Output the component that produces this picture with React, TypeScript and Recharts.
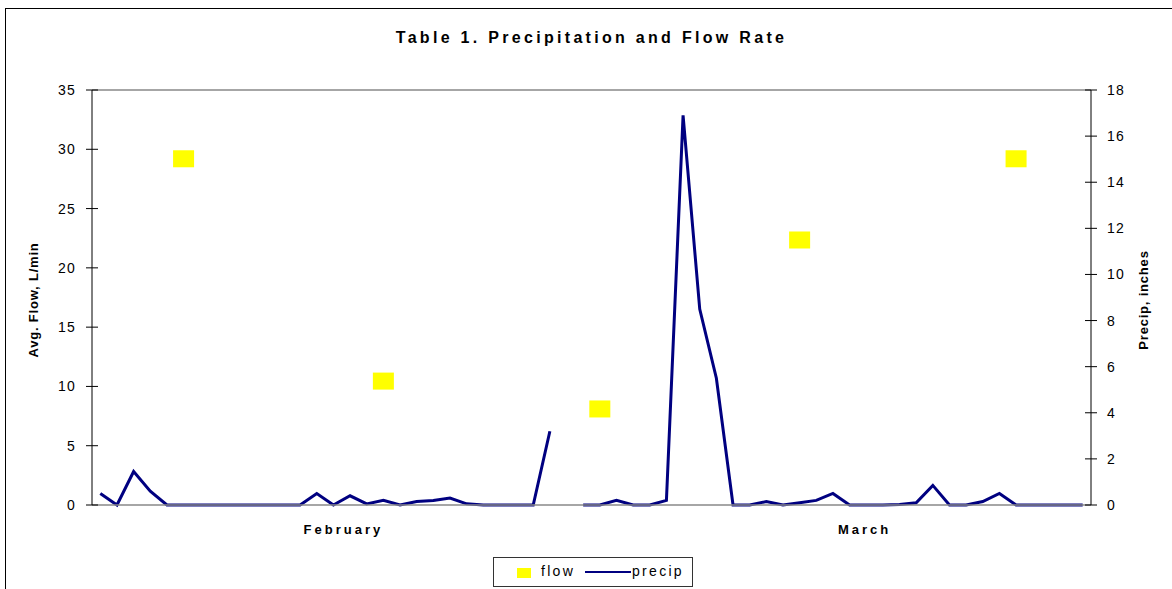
import { ComposedChart, Line, Scatter, XAxis, YAxis, ReferenceLine } from 'recharts'

const FONT = '"Liberation Sans", Arial, sans-serif'
const NAVY = '#000080'
const YELLOW = '#FFFF00'

// daily precipitation in inches, Feb 1 .. Mar 31 (null = no reading)
const precip: (number | null)[] = [
  0.5, 0, 1.45, 0.6, 0, 0, 0, 0, 0, 0, 0, 0, 0,
  0.5, 0, 0.4, 0.05, 0.2, 0, 0.15, 0.2, 0.3, 0.05,
  0, 0, 0, 0, 3.2, null,
  0, 0, 0.2, 0, 0, 0.2, 16.9, 8.5, 5.5,
  0, 0, 0.15, 0, 0.1, 0.2, 0.5, 0, 0, 0,
  0.02, 0.1, 0.85, 0, 0, 0.15, 0.5, 0,
  0, 0, 0, 0,
]

// average flow, sampled on a few days only
const flowDays = [5, 17, 30, 42, 55]
const flowValues = [29.2, 10.45, 8.1, 22.35, 29.2]

const monthTicks = [14.6, 45.9]
const monthLabels = ['February', 'March']
const flowTicks = [0, 5, 10, 15, 20, 25, 30, 35]
const precipTicks = [0, 2, 4, 6, 8, 10, 12, 14, 16, 18]

const lineData = precip.map((v, i) => ({ day: i, precip: v }))
const flowData = flowDays.map((d, k) => ({ day: d, flow: flowValues[k] }))

// ticks cross the axis line on both sides
const makeYTick = (side: 'left' | 'right') => (props: any) => {
  const { x, y, payload } = props
  const axisX = side === 'left' ? x + 16 : x - 16
  return (
    <g>
      <line x1={axisX - 6} x2={axisX + 6} y1={y} y2={y} stroke="#000" />
      <text
        x={x}
        y={y}
        dy="0.36em"
        textAnchor={side === 'left' ? 'end' : 'start'}
        fontFamily={FONT}
        fontSize={14}
        letterSpacing={1.2}
        fill="#000"
      >
        {payload.value}
      </text>
    </g>
  )
}

const MonthTick = (props: any) => {
  const { x, y, payload } = props
  const label = monthLabels[monthTicks.indexOf(payload.value)]
  return (
    <text x={x} y={y} dy="0.71em" textAnchor="middle" fontFamily={FONT} fontSize={13}
      fontWeight="bold" letterSpacing={3} fill="#000">
      {label}
    </text>
  )
}

const AxisTitle = ({ x, y, text }: { x: number; y: number; text: string }) => (
  <text x={x} y={y} transform={`rotate(-90 ${x} ${y})`} textAnchor="middle" dominantBaseline="middle"
    fontFamily={FONT} fontSize={13} fontWeight="bold" letterSpacing={0.8} fill="#000">
    {text}
  </text>
)

const FlowSquare = (props: any) => {
  const { cx, cy } = props
  return <rect x={cx - 10.5} y={cy - 8.5} width={21} height={17} fill={YELLOW} />
}

export default function App() {
  return (
    <div style={{ position: 'absolute', left: 0, top: 0, width: 1172, height: 589, overflow: 'hidden', background: '#fff', fontFamily: FONT }}>
      <div style={{ position: 'absolute', left: 5, top: 8, width: 1300, height: 700, border: '1px solid #000' }} />
      <div style={{ position: 'absolute', left: 92, top: 29, width: 999, textAlign: 'center', fontSize: 16, fontWeight: 'bold', letterSpacing: 3.3, lineHeight: '18px' }}>
        Table 1. Precipitation and Flow Rate
      </div>
      <div style={{ position: 'absolute', left: 0, top: 0 }}>
        <ComposedChart width={1172} height={589} data={lineData} margin={{ top: 90, right: 5, bottom: 54, left: 5 }}>
          <XAxis
            dataKey="day"
            type="number"
            domain={[-0.5, 59.5]}
            ticks={monthTicks}
            interval={0}
            tick={<MonthTick />}
            tickLine={false}
            tickSize={0}
            tickMargin={20}
            height={30}
            axisLine={{ stroke: '#888', strokeWidth: 1.5 }}
          />
          <YAxis
            yAxisId="left"
            orientation="left"
            width={87}
            domain={[0, 35]}
            ticks={flowTicks}
            interval={0}
            tick={makeYTick('left')}
            tickLine={false}
            tickSize={6}
            tickMargin={10}
            axisLine={{ stroke: '#000' }}
          />
          <YAxis
            yAxisId="right"
            orientation="right"
            width={76}
            domain={[0, 18]}
            ticks={precipTicks}
            interval={0}
            tick={makeYTick('right')}
            tickLine={false}
            tickSize={6}
            tickMargin={10}
            axisLine={{ stroke: '#000' }}
          />
          <ReferenceLine yAxisId="left" y={35} stroke="#888" strokeWidth={1.5} />
          <Scatter
            yAxisId="left"
            data={flowData}
            dataKey="flow"
            name="flow"
            shape={<FlowSquare />}
            isAnimationActive={false}
          />
          <Line
            yAxisId="right"
            type="linear"
            dataKey="precip"
            name="precip"
            stroke={NAVY}
            strokeWidth={3}
            dot={false}
            activeDot={false}
            connectNulls={false}
            isAnimationActive={false}
          />
        </ComposedChart>
      </div>
      {/* axis titles */}
      <svg width={1172} height={589} style={{ position: 'absolute', left: 0, top: 0, pointerEvents: 'none' }}>
        <AxisTitle x={35} y={300} text="Avg. Flow, L/min" />
        <AxisTitle x={1145} y={300} text="Precip, inches" />
      </svg>
      {/* legend box */}
      <div style={{ position: 'absolute', left: 493, top: 557, width: 198, height: 28, border: '1px solid #333', fontSize: 14, letterSpacing: 2.3 }}>
        <div style={{ position: 'absolute', left: 23, top: 10, width: 14, height: 10, background: YELLOW }} />
        <div style={{ position: 'absolute', left: 47, top: 5, lineHeight: '16px' }}>flow</div>
        <div style={{ position: 'absolute', left: 91, top: 13, width: 46, height: 2, background: NAVY }} />
        <div style={{ position: 'absolute', left: 138, top: 5, lineHeight: '16px' }}>precip</div>
      </div>
    </div>
  )
}
